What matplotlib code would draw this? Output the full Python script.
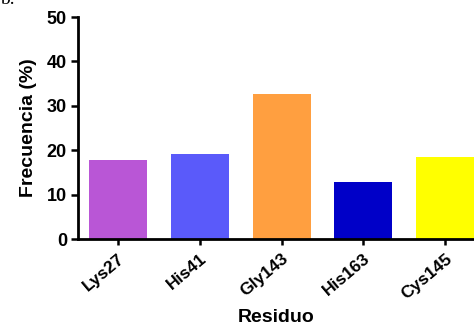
import matplotlib
matplotlib.use("Agg")
import matplotlib.pyplot as plt

# Data
residues = ["Lys27", "His41", "Gly143", "His163", "Cys145"]
frequency = [17.8, 19.1, 32.6, 12.8, 18.4]
bar_colors = ["#B956D6", "#5A5AFA", "#FF9F40", "#0000C8", "#FFFF00"]
y_ticks = [0, 10, 20, 30, 40, 50]

plt.rcParams["font.family"] = ["Liberation Sans", "DejaVu Sans"]
plt.rcParams["font.weight"] = "bold"

fig = plt.figure(figsize=(4.74, 3.28), dpi=100)
ax = fig.add_axes([0.1646, 0.2713, 0.8354, 0.6768])

x = range(len(residues))
ax.bar(x, frequency, width=0.71, color=bar_colors, edgecolor="none")

ax.set_xlim(-0.49, 4.355)
ax.set_ylim(0, 50)
ax.set_yticks(y_ticks)
ax.set_xticks(list(x))
ax.set_xticklabels(residues, rotation=40, ha="right", rotation_mode="anchor",
                   fontsize=12.5, fontweight="bold")
ax.tick_params(axis="y", labelsize=13, width=1.8, length=5, pad=3)
ax.tick_params(axis="x", width=1.8, length=4.5, pad=4)
for lbl in ax.get_yticklabels():
    lbl.set_fontweight("bold")

for side in ("top", "right"):
    ax.spines[side].set_visible(False)
for side in ("left", "bottom"):
    ax.spines[side].set_linewidth(2)

ax.set_ylabel("Frecuencia (%)", fontsize=14, fontweight="bold", labelpad=7)
ax.set_xlabel("Residuo", fontsize=14, fontweight="bold", labelpad=5.5)

# clipped panel letter at the top-left corner
fig.text(0.0, 1.0, "b.", family="Liberation Serif", fontsize=14,
         fontweight="normal", va="center", ha="left")

fig.savefig("out.png", dpi=100)
